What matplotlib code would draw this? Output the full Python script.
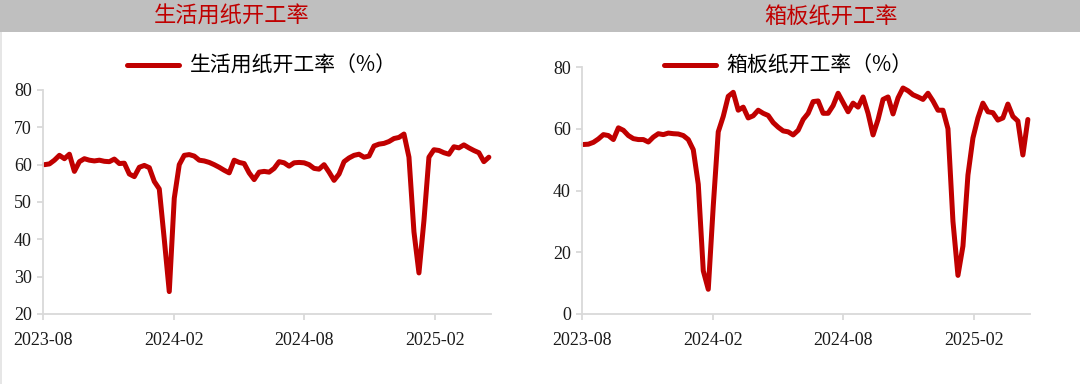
import matplotlib
matplotlib.use("Agg")
import matplotlib.pyplot as plt
import matplotlib.dates as mdates
from matplotlib.patches import Rectangle
import pandas as pd

# weekly readings
dates = pd.date_range("2023-08-03", periods=90, freq="7D")

tissue = [
    60.0, 60.2, 61.2, 62.5, 61.6, 62.8, 58.2, 60.8, 61.6, 61.2,
    61.0, 61.2, 60.9, 60.8, 61.5, 60.3, 60.4, 57.5, 56.8, 59.3,
    59.8, 59.2, 55.5, 53.5, 40.0, 26.0, 51.0, 60.0, 62.5, 62.7,
    62.3, 61.2, 61.0, 60.6, 60.0, 59.3, 58.5, 57.8, 61.2, 60.6,
    60.3, 57.8, 56.0, 58.0, 58.2, 58.0, 59.0, 60.8, 60.5, 59.6,
    60.5, 60.6, 60.5, 60.0, 59.0, 58.8, 60.0, 58.0, 55.8, 57.5,
    60.8, 61.8, 62.5, 62.8, 62.0, 62.3, 65.0, 65.5, 65.7, 66.2,
    67.0, 67.3, 68.2, 62.0, 42.0, 31.0, 45.0, 62.0, 64.0, 63.8,
    63.2, 62.8, 64.8, 64.5, 65.3, 64.5, 63.8, 63.2, 60.8, 62.0,
]

board = [
    54.9, 55.0, 55.6, 56.7, 58.1, 57.8, 56.5, 60.3, 59.5, 57.8,
    56.8, 56.5, 56.5, 55.7, 57.3, 58.4, 58.1, 58.6, 58.4, 58.3,
    57.8, 56.5, 53.2, 42.0, 14.0, 8.0, 35.0, 59.0, 64.0, 70.5,
    71.8, 66.0, 67.0, 63.5, 64.2, 66.0, 65.0, 64.3, 62.0, 60.5,
    59.3, 59.0, 58.0, 59.5, 63.0, 65.0, 68.8, 69.0, 65.0, 65.0,
    67.5, 71.5, 68.5, 65.5, 68.3, 67.0, 70.3, 65.0, 58.0, 63.0,
    69.5, 70.3, 64.8, 70.0, 73.2, 72.3, 71.0, 70.3, 69.5, 71.5,
    69.0, 66.0, 66.0, 60.0, 30.0, 12.5, 22.0, 45.0, 57.0, 63.5,
    68.3, 65.5, 65.2, 62.8, 63.5, 68.0, 64.0, 62.5, 51.5, 63.0,
]

titles = ["生活用纸开工率", "箱板纸开工率"]
labels = ["生活用纸开工率（%）", "箱板纸开工率（%）"]
ylims = [(20, 80), (0, 80)]
ysteps = [10, 20]

RED = "#C00000"
GRID = "#D9D9D9"
CJK = ["Noto Sans CJK SC", "DejaVu Sans"]
SERIF = "Liberation Serif"

W, H = 1080, 384
fig = plt.figure(figsize=(W / 100, H / 100), dpi=100)

# grey header band
fig.patches.append(Rectangle((0, 1 - 32 / H), 1, 32 / H, transform=fig.transFigure,
                             facecolor="#BFBFBF", edgecolor="none", zorder=0))
# faint frame line on the left edge
fig.patches.append(Rectangle((0, 0), 1.5 / W, 1 - 32 / H, transform=fig.transFigure,
                             facecolor="#E6E6E6", edgecolor="none", zorder=0))

# axes boxes in pixels: left, top(pixel of ymax), right, bottom
boxes = [(43, 90, 491, 314), (582, 67, 1030, 314)]
title_x = [232, 831]
legend_x = [262, 788]

for k, series in enumerate([tissue, board]):
    l, t, r, b = boxes[k]
    ax = fig.add_axes([l / W, 1 - b / H, (r - l) / W, (b - t) / H])
    ax.plot(dates, series, color=RED, lw=3.6, solid_joinstyle="round",
            solid_capstyle="round", label=labels[k], clip_on=False)
    ax.set_ylim(*ylims[k])
    ax.set_yticks(range(ylims[k][0], ylims[k][1] + 1, ysteps[k]))
    ax.set_xlim(pd.Timestamp("2023-08-01"), pd.Timestamp("2025-04-20"))
    ax.xaxis.set_major_locator(mdates.MonthLocator(bymonth=[2, 8]))
    ax.xaxis.set_major_formatter(mdates.DateFormatter("%Y-%m"))
    for s in ["top", "right"]:
        ax.spines[s].set_visible(False)
    for s in ["left", "bottom"]:
        ax.spines[s].set_color(GRID)
        ax.spines[s].set_linewidth(1.3)
    ax.tick_params(color=GRID, width=1.3, length=4, labelsize=13)
    ax.tick_params(axis="x", pad=9)
    ax.tick_params(axis="y", pad=4)
    for lab in ax.get_xticklabels() + ax.get_yticklabels():
        lab.set_fontfamily(SERIF)
        lab.set_color("#1a1a1a")
    ax.legend(loc="center", bbox_to_anchor=(legend_x[k] / W, 1 - 66 / H),
              bbox_transform=fig.transFigure, frameon=False, handlelength=2.5,
              handletextpad=0.5,
              prop={"family": CJK, "size": 15, "weight": "light"})

    fig.text(title_x[k] / W, 1 - 16 / H, titles[k], color=RED, fontsize=16,
             family=CJK, weight="light", ha="center", va="center")

fig.savefig("out.png", dpi=100)
